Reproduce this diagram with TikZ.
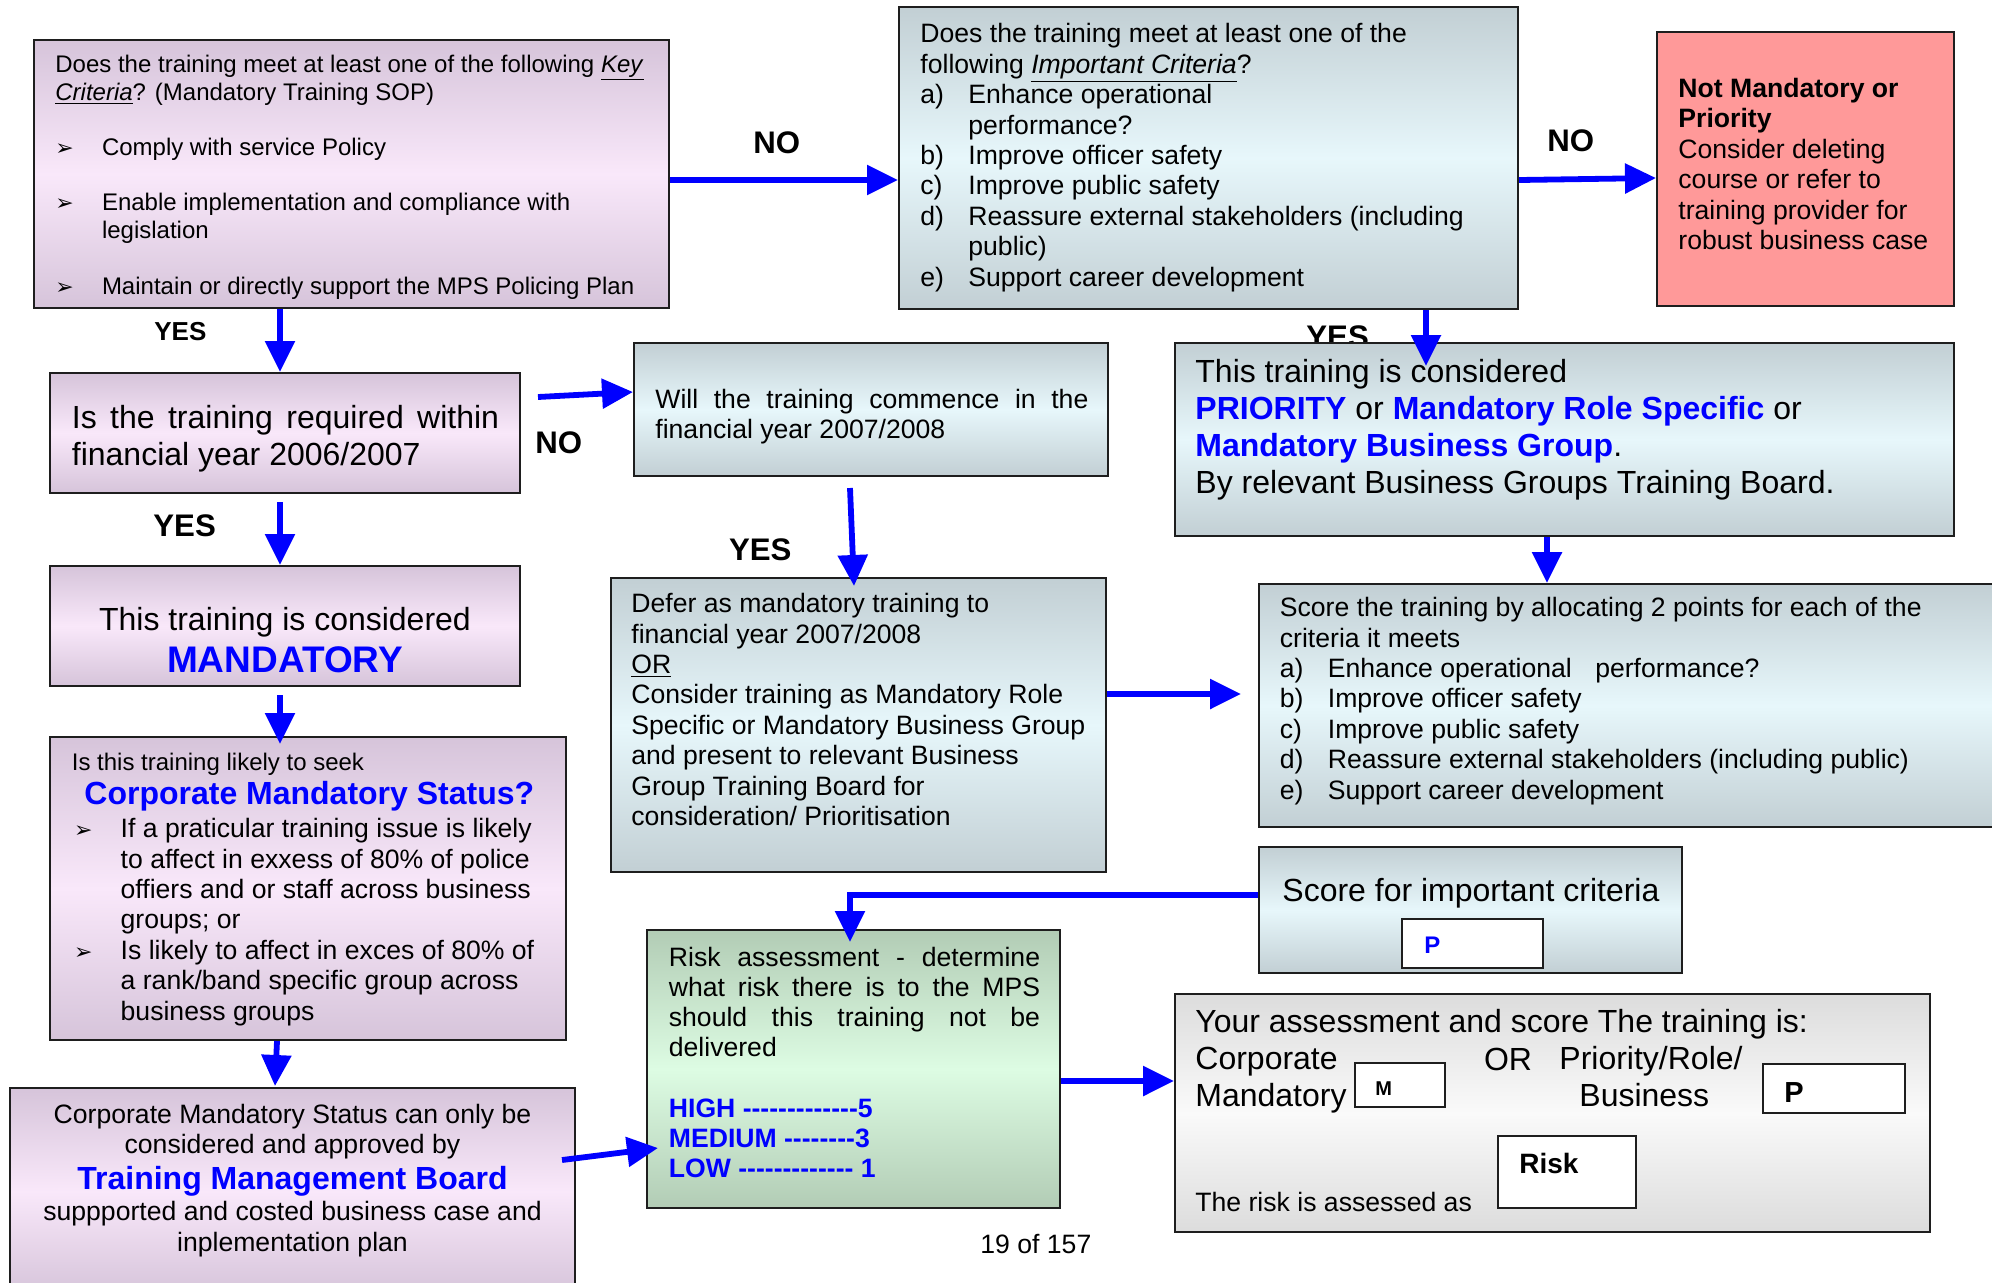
\documentclass[tikz,border=0pt]{standalone}
\usepackage{fontspec}
\setmainfont{Liberation Sans}
\newfontfamily\symfont{DejaVu Sans}
\usetikzlibrary{arrows.meta,fit}
\definecolor{boxline}{RGB}{30,30,30}
\definecolor{pinkedge}{RGB}{214,196,218}
\definecolor{pinkmid}{RGB}{249,232,250}
\definecolor{greyedge}{RGB}{194,207,212}
\definecolor{greymid}{RGB}{231,247,251}
\definecolor{greenedge}{RGB}{178,204,181}
\definecolor{greenmid}{RGB}{221,252,227}
\definecolor{silveredge}{RGB}{220,220,220}
\definecolor{silvermid}{RGB}{250,250,250}
\definecolor{notpink}{RGB}{255,153,153}
\newcommand\bul{\makebox[23.3pt][l]{\fontsize{11}{11}\symfont ➢}}
\newcommand\lbl[1]{\makebox[24pt][l]{#1}}
\newcommand\spread[2]{\makebox[#1][s]{#2}}
\newcommand\dashrun[1]{\foreach \dn in {1,...,#1}{-\kern0pt}}
\tikzset{
  pinkbox/.style={draw=boxline,line width=1pt,inner sep=0pt,top color=pinkedge,bottom color=pinkedge,middle color=pinkmid},
  greybox/.style={draw=boxline,line width=1pt,inner sep=0pt,top color=greyedge,bottom color=greyedge,middle color=greymid},
  greenbox/.style={draw=boxline,line width=1pt,inner sep=0pt,top color=greenedge,bottom color=greenedge,middle color=greenmid},
  silverbox/.style={draw=boxline,line width=1pt,inner sep=0pt,top color=silveredge,bottom color=silveredge,middle color=silvermid},
  notbox/.style={draw=boxline,line width=1pt,inner sep=0pt,fill=notpink},
  cellbox/.style={draw=boxline,line width=1pt,inner sep=0pt,fill=white},
  txt/.style={anchor=base west,inner sep=0pt,align=left,font=\fontsize{13.3}{15.2}\selectfont},
  bigtxt/.style={txt,font=\fontsize{16}{18.4}\selectfont},
  smalltxt/.style={txt,font=\fontsize{12}{14.1}\selectfont},
  keyword/.style={inner sep=0pt,text=blue,font=\bfseries\fontsize{16}{19}\selectfont},
  answer/.style={anchor=base west,inner sep=0pt,font=\bfseries\fontsize{15.6}{18}\selectfont},
  flow/.style={blue,line width=2.9pt,-{Triangle[length=15.5pt,width=14.5pt]}}
}
\begin{document}
\begin{tikzpicture}[x=0.5pt,y=-0.5pt]
  \useasboundingbox (0,0) rectangle (1992,1282);
  \clip (0,0) rectangle (1992,1282);
  \fill[white] (0,0) rectangle (1992,1282);

  % boxes
  \node[pinkbox,fit={(34,40) (669,308)}] (key criteria) {};
  \node[greybox,fit={(899,7) (1518,309)}] (important criteria) {};
  \node[notbox,fit={(1657,32) (1954,306)}] (not priority) {};
  \node[pinkbox,fit={(50,373) (520,493)}] (within year) {};
  \node[greybox,fit={(634,343) (1108,476)}] (next year) {};
  \node[answer] (yes priority) at (1306,347) {YES};
  \node[greybox,fit={(1175,343) (1954,536)}] (priority) {};
  \node[pinkbox,fit={(50,566) (520,686)}] (mandatory) {};
  \node[greybox,fit={(611,578) (1106,872)}] (defer) {};
  \node[greybox,fit={(1259,584) (2000,827)}] (score criteria) {};
  \node[pinkbox,fit={(50,737) (566,1040)}] (corporate status) {};
  \node[greybox,fit={(1259,847) (1682,973)}] (score important) {};
  \node[cellbox,fit={(1402,919) (1543,968)}] (important cell) {};
  \node[greenbox,fit={(647,930) (1060,1208)}] (risk assessment) {};
  \node[pinkbox,fit={(10,1088) (575,1295)}] (board approval) {};
  \node[silverbox,fit={(1175,994) (1930,1232)}] (your assessment) {};
  \node[cellbox,fit={(1355,1063) (1445,1107)}] (mandatory cell) {};
  \node[cellbox,fit={(1763,1064) (1905,1113)}] (priority cell) {};
  \node[cellbox,fit={(1498,1136) (1636,1208)}] (risk cell) {};

  % texts (multi-line nodes sit on their last baseline)
  \node[smalltxt] (key criteria text) at (55,294) {Does the training meet at least one of the following \underline{\textit{Key}}\\
    \underline{\textit{Criteria}}? (Mandatory Training SOP)\\[13.5pt]
    \bul Comply with service Policy\\[13.5pt]
    \bul Enable implementation and compliance with\\
    \hspace*{23.3pt}legislation\\[13.5pt]
    \bul Maintain or directly support the MPS Policing Plan};
  \node[txt] (important criteria text) at (920,286) {Does the training meet at least one of the\\
    following \underline{\textit{Important Criteria}}?\\
    \lbl{a)}Enhance operational\\
    \lbl{}performance?\\
    \lbl{b)}Improve officer safety\\
    \lbl{c)}Improve public safety\\
    \lbl{d)}Reassure external stakeholders (including\\
    \lbl{}public)\\
    \lbl{e)}Support career development};
  \node[txt] (not priority text) at (1678,249.5) {\textbf{Not Mandatory or}\\\textbf{Priority}\\Consider deleting\\course or refer to\\training provider for\\robust business case};
  \node[bigtxt] (within year text) at (71.5,465) {\spread{213.6pt}{Is the training required within}\\financial year 2006/2007};
  \node[txt] (next year text) at (655,438.5) {\spread{216.5pt}{Will the training commence in the}\\financial year 2007/2008};
  \node[bigtxt,font=\fontsize{16}{18.5}\selectfont] (priority text) at (1195,493.5) {This training is considered\\
    \textcolor{blue}{\textbf{PRIORITY}} or \textcolor{blue}{\textbf{Mandatory Role Specific}} or\\
    \textcolor{blue}{\textbf{Mandatory Business Group}}.\\
    By relevant Business Groups Training Board.};
  \node[bigtxt,anchor=base] (mandatory text) at (285,630) {This training is considered};
  \node[keyword,anchor=base,font=\bfseries\fontsize{18.5}{22}\selectfont] (mandatory word) at (285,672.7) {MANDATORY};
  \node[txt] (defer text) at (631,825.5) {Defer as mandatory training to\\
    financial year 2007/2008\\
    \underline{OR}\\
    Consider training as Mandatory Role\\
    Specific or Mandatory Business Group\\
    and present to relevant Business\\
    Group Training Board for\\
    consideration/ Prioritisation};
  \node[txt] (score criteria text) at (1279.5,799) {Score the training by allocating 2 points for each of the\\
    criteria it meets\\
    \lbl{a)}Enhance operational\hspace{8pt} performance?\\
    \lbl{b)}Improve officer safety\\
    \lbl{c)}Improve public safety\\
    \lbl{d)}Reassure external stakeholders (including public)\\
    \lbl{e)}Support career development};
  \node[smalltxt] (corporate question) at (71.5,770.5) {Is this training likely to seek};
  \node[keyword,anchor=base west] (corporate keyword) at (84,804) {Corporate Mandatory Status?};
  \node[txt] (corporate text) at (73.7,1020) {\bul If a praticular training issue is likely\\
    \hspace*{23.3pt}to affect in exxess of 80\% of police\\
    \hspace*{23.3pt}offiers and or staff across business\\
    \hspace*{23.3pt}groups; or\\
    \bul Is likely to affect in exces of 80\% of\\
    \hspace*{23.3pt}a rank/band specific group across\\
    \hspace*{23.3pt}business groups};
  \node[bigtxt] (score important text) at (1282,901.7) {Score for important criteria};
  \node[anchor=base west,inner sep=0pt,text=blue,font=\bfseries\fontsize{12}{14}\selectfont] (important cell text) at (1424,953) {P};
  \node[txt,font=\fontsize{13.3}{15}\selectfont] (risk text) at (668.5,1177.5) {\spread{185.6pt}{Risk assessment - determine}\\
    \spread{185.6pt}{what risk there is to the MPS}\\
    \spread{185.6pt}{should this training not be}\\
    delivered\\[15.5pt]
    \textcolor{blue}{\textbf{HIGH \dashrun{13}5}}\\
    \textcolor{blue}{\textbf{MEDIUM \dashrun{8}3}}\\
    \textcolor{blue}{\textbf{LOW \dashrun{13} 1}}};
  \node[txt,anchor=base,align=center] (board text) at (292.5,1153.5) {Corporate Mandatory Status can only be\\considered and approved by};
  \node[keyword,anchor=base] (board keyword) at (292.5,1189) {Training Management Board};
  \node[txt,anchor=base,align=center] (board plan text) at (292.5,1251) {suppported and costed business case and\\inplementation plan};
  \node[bigtxt] (your assessment text) at (1195,1032.7) {Your assessment and score The training is:};
  \node[bigtxt] (corporate option) at (1195,1106.7) {Corporate\\Mandatory};
  \node[bigtxt] (or option) at (1483.6,1070) {OR};
  \node[bigtxt] (priority option) at (1559,1106.7) {Priority/Role/\\\hspace*{10pt}Business};
  \node[anchor=base west,inner sep=0pt,font=\bfseries\fontsize{10}{12}\selectfont] (mandatory cell text) at (1375,1095) {M};
  \node[anchor=base west,inner sep=0pt,font=\bfseries\fontsize{14.5}{17}\selectfont] (priority cell text) at (1784,1102) {P};
  \node[anchor=base west,inner sep=0pt,font=\bfseries\fontsize{14}{17}\selectfont] (risk cell text) at (1519,1173) {Risk};
  \node[txt] (risk assessed text) at (1195,1211.7) {The risk is assessed as};
  \node[txt] (page number) at (980,1253.3) {19 of 157};

  % answers
  \node[answer] (no important) at (753,153) {NO};
  \node[answer] (no priority) at (1547,151.7) {NO};
  \node[answer,font=\bfseries\fontsize{13}{15}\selectfont] (yes key) at (154,340.7) {YES};
  \node[answer] (no year) at (535,453) {NO};
  \node[answer] (yes year) at (153,536.7) {YES};
  \node[answer] (yes next year) at (728.7,560) {YES};

  % connectors
  \coordinate (no year start) at (538,397);
  \coordinate (yes year start) at (280,502);
  \coordinate (defer start) at (850,488);
  \coordinate (defer entry) at (854,586);
  \coordinate (priority entry) at (1426,366);
  \coordinate (mandatory exit) at (280,695);
  \coordinate (status entry) at (280,744);
  \coordinate (score entry) at (1241,694);
  \coordinate (board entry) at (275,1086);
  \coordinate (board exit) at (562,1160);
  \coordinate (risk entry) at (658,1148);
  \coordinate (important entry) at (850,942);

  \draw[flow] (key criteria.east |- 0,180) -- (important criteria.west |- 0,180);
  \draw[flow] (important criteria.east |- 0,180) -- (not priority.west |- 0,178);
  \draw[flow] (key criteria.south -| 280,0) -- (within year.north -| 280,0);
  \draw[flow] (no year start) -- (next year.west |- 0,392);
  \draw[flow] (yes year start) -- (mandatory.north -| 280,0);
  \draw[flow] (defer start) -- (defer entry);
  \draw[flow] (important criteria.south -| 1426,0) -- (priority entry);
  \draw[flow] (priority.south -| 1547,0) -- (score criteria.north -| 1547,0);
  \draw[flow] (mandatory exit) -- (status entry);
  \draw[flow] (defer.east |- 0,694) -- (score entry);
  \draw[flow] (corporate status.south -| 277,0) -- (board entry);
  \draw[flow] (board exit) -- (risk entry);
  \draw[flow] (score important.west |- 0,895) -| (important entry);
  \draw[flow] (risk assessment.east |- 0,1081) -- (your assessment.west |- 0,1081);
\end{tikzpicture}
\end{document}
